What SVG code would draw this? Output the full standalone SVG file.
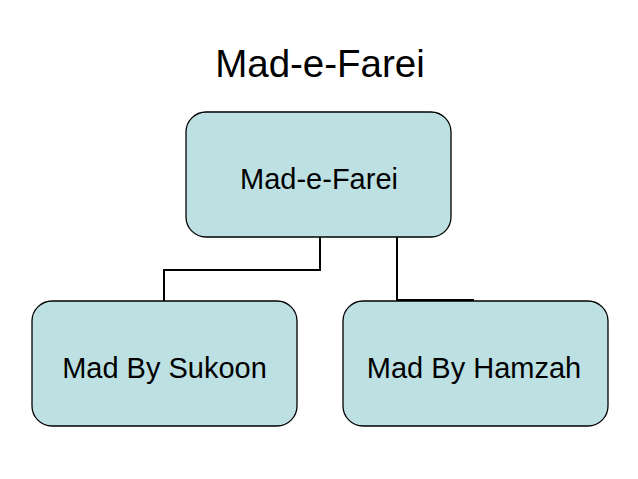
<svg xmlns="http://www.w3.org/2000/svg" width="638" height="479" viewBox="0 0 638 479">
<style>
.box{fill:#bde0e3;stroke:#000;stroke-width:1.3}
.t{font-family:"Liberation Sans",Arial,sans-serif;font-size:29px;fill:#000;text-anchor:middle}
.c{fill:none;stroke:#000;stroke-width:2}
</style>
<rect width="638" height="479" fill="#fff"/>
<text x="320" y="77" class="t" style="font-size:38.5px">Mad-e-Farei</text>
<g id="connectors">
<polyline class="c" points="320,237 320,270 164,270 164,301"/>
<polyline class="c" points="397,237 397,300 474,300"/>
</g>
<g id="root">
<rect class="box" x="186" y="112" width="265" height="125" rx="20"/>
<text x="319" y="189" class="t">Mad-e-Farei</text>
</g>
<g id="sukoon">
<rect class="box" x="32" y="301" width="265" height="125" rx="20"/>
<text x="164.5" y="378" class="t">Mad By Sukoon</text>
</g>
<g id="hamzah">
<rect class="box" x="343" y="301" width="265" height="125" rx="20"/>
<text x="474" y="378" class="t">Mad By Hamzah</text>
</g>
</svg>
